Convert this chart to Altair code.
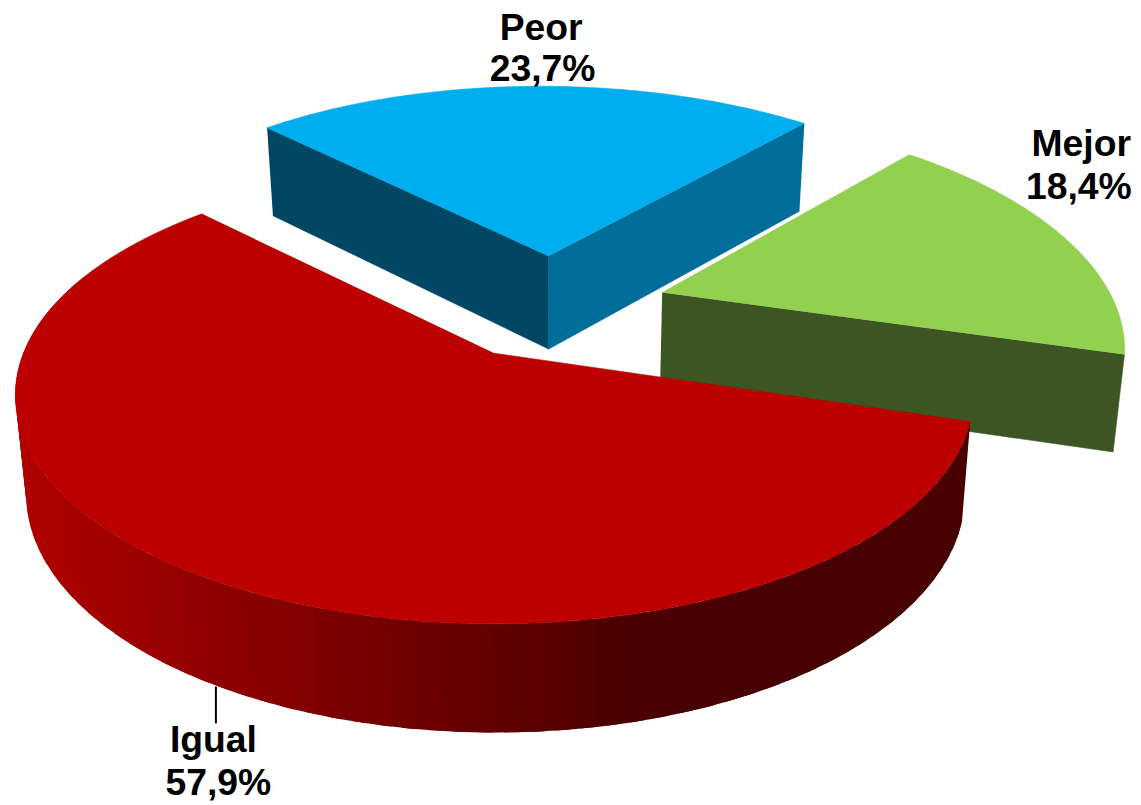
import math
import altair as alt
import pandas as pd

# data
categories = ["Igual", "Peor", "Mejor"]
shares = [57.9, 23.7, 18.4]
share_labels = ["57,9%", "23,7%", "18,4%"]
top_colors = ["#BC0000", "#00AEEF", "#92D050"]

# camera and explosion of the 3D pie
START_ANGLE = 17.0
CX, CY, AX, BY, K = 497.0, 353.0, 473.5, 222.3, 0.1826
OFFSETS = {"Igual": (0.0, 0.0), "Peor": (0.125, -0.479), "Mejor": (0.375, -0.289)}
RADII_U = {"Igual": 1.0, "Peor": 1.04, "Mejor": 1.0}
RADII_V = {"Igual": 1.0, "Peor": 1.07, "Mejor": 1.07}
TRIM = {"Igual": (0.0, 0.0), "Peor": (0.9, 0.6), "Mejor": (2.0, -1.0)}
XV, SX, H0, HS = 560.0, 0.98, 83.0, 0.042


def top(u, v):
    w = 1 - K * v
    return CX + AX * u / w, CY + BY * v / w


def bottom(p):
    return XV + SX * (p[0] - XV), p[1] + H0 + HS * p[1]


def rim(cat, a):
    u0, v0 = OFFSETS[cat]
    return top(
        u0 + RADII_U[cat] * math.cos(math.radians(a)),
        v0 + RADII_V[cat] * math.sin(math.radians(a)),
    )


spans = {}
a = START_ANGLE
for c, s in zip(categories, shares):
    end_angle = a + 360 * s / sum(shares)
    spans[c] = (a + TRIM[c][0], end_angle + TRIM[c][1])
    a = end_angle

rows = []


def poly(piece, color, pts):
    for i, (x, y) in enumerate(pts):
        rows.append({"x": x, "y": y, "i": i, "piece": piece, "fill": color})


def gradient(x):
    f = min(1.0, max(0.0, (x - 14) / (650 - 14)))
    return "#%02x0000" % round(176 + (72 - 176) * f)


def top_face(cat, color):
    a0, a1 = spans[cat]
    n = 120
    apex = top(*OFFSETS[cat])
    poly(cat + " top", color, [apex] + [rim(cat, a0 + (a1 - a0) * j / n) for j in range(n + 1)])


# Peor sides
apex = top(*OFFSETS["Peor"])
left_end, right_end = rim("Peor", spans["Peor"][0]), rim("Peor", spans["Peor"][1])
poly("Peor left", "#004763", [left_end, apex, bottom(apex), bottom(left_end)])
poly("Peor right", "#006D9A", [right_end, apex, bottom(apex), bottom(right_end)])
top_face("Peor", top_colors[1])
# Mejor side
apex = top(*OFFSETS["Mejor"])
end = rim("Mejor", spans["Mejor"][1])
poly("Mejor side", "#3D5522", [apex, end, bottom(end), bottom(apex)])
top_face("Mejor", top_colors[2])
# Igual rim: overlapping bands, dark on the right, light on the left
a0 = spans["Igual"][0]
n = 70
a_step = (200 - a0) / n
for j in range(n):
    aa, bb = a0 + j * a_step, a0 + (j + 1.6) * a_step
    mid = rim("Igual", a0 + (j + 0.5) * a_step)
    steps = [aa + (bb - aa) * m / 4 for m in range(5)]
    upper = [rim("Igual", t) for t in steps]
    lower = [bottom(p) for p in reversed(upper)]
    poly("rim%03d" % j, gradient(mid[0]), upper + lower)
top_face("Igual", top_colors[0])

df = pd.DataFrame(rows)
W, H = 1131, 795
xs = alt.Scale(domain=[8, 8 + W], range=[0, W])
ys = alt.Scale(domain=[8, 8 + H], range=[0, H])


def face(frame, width=0.6, stroke=True):
    enc = dict(
        x=alt.X("x:Q", scale=xs, axis=None),
        y=alt.Y("y:Q", scale=ys, axis=None),
        order="i:Q",
        detail="piece:N",
        fill=alt.Fill("fill:N", scale=None, legend=None),
    )
    if stroke:
        enc["stroke"] = alt.Stroke("fill:N", scale=None, legend=None)
    return alt.Chart(frame).mark_line(strokeWidth=width).encode(**enc)


charts = [face(df[df["piece"] == name]) for name in ["Peor left", "Peor right", "Peor top", "Mejor side", "Mejor top"]]
charts.append(face(df[df["piece"].str.startswith("rim")], width=0, stroke=False))
charts.append(face(df[df["piece"] == "Igual top"]))

leader = alt.Chart(pd.DataFrame({"x": [217], "y": [688], "y2": [725]})).mark_rule(color="black", strokeWidth=2).encode(
    x=alt.X("x:Q", scale=xs, axis=None),
    y=alt.Y("y:Q", scale=ys, axis=None),
    y2="y2:Q",
)

label_x = [214.5, 544, 1087]
label_x2 = [219.5, 545.5, 1084.5]
name_y = [743, 27, 144]
pct_y = [786, 68, 187]
names = pd.DataFrame({"x": label_x + label_x2, "y": name_y + pct_y, "t": categories + share_labels})
text = alt.Chart(names).mark_text(font="Liberation Sans", fontWeight="bold", fontSize=37.5, color="black", baseline="middle").encode(
    x=alt.X("x:Q", scale=xs, axis=None),
    y=alt.Y("y:Q", scale=ys, axis=None),
    text="t:N",
)

chart = alt.layer(*charts, leader, text).properties(
    width=W, height=H, padding=0, autosize="none", background="white"
).configure_view(stroke=None)
chart.save("out.html", embed_options={"renderer": "svg", "actions": False})
